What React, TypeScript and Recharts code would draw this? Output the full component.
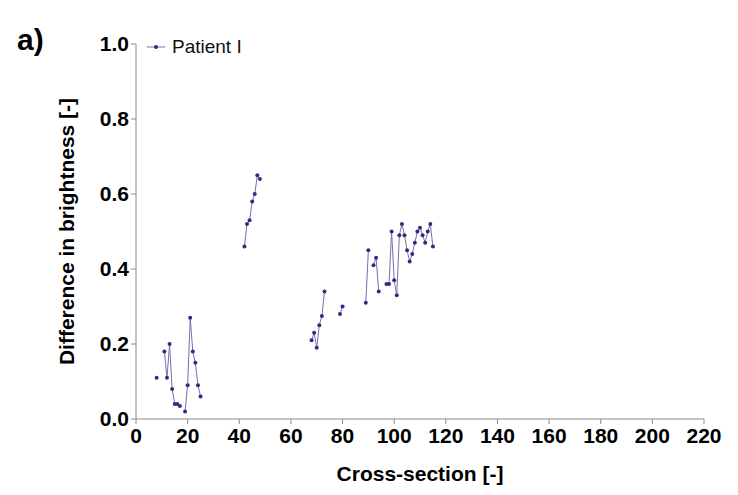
import React from "react";
import { LineChart, Line, XAxis, YAxis } from "recharts";

const crossSection = [
  8, 9, 11, 12, 13, 14, 15, 16, 17, 18, 19, 20, 21, 22, 23, 24, 25, 30,
  42, 43, 44, 45, 46, 47, 48, 55,
  68, 69, 70, 71, 72, 73, 76, 79, 80, 85,
  89, 90, 91, 92, 93, 94, 95, 97, 98, 99, 100, 101, 102, 103, 104, 105, 106, 107, 108, 109, 110, 111, 112, 113, 114, 115,
];
const brightness: (number | null)[] = [
  0.11, null, 0.18, 0.11, 0.2, 0.08, 0.04, 0.04, 0.035, null, 0.02, 0.09, 0.27, 0.18, 0.15, 0.09, 0.06, null,
  0.46, 0.52, 0.53, 0.58, 0.6, 0.65, 0.64, null,
  0.21, 0.23, 0.19, 0.25, 0.275, 0.34, null, 0.28, 0.3, null,
  0.31, 0.45, null, 0.41, 0.43, 0.34, null, 0.36, 0.36, 0.5, 0.37, 0.33, 0.49, 0.52, 0.49, 0.45, 0.42, 0.44, 0.47, 0.5, 0.51, 0.49, 0.47, 0.5, 0.52, 0.46,
];
const xTicks = [0, 20, 40, 60, 80, 100, 120, 140, 160, 180, 200, 220];
const yTicks = [0, 0.2, 0.4, 0.6, 0.8, 1.0];
const seriesName = "Patient I";
const xTitle = "Cross-section [-]";
const yTitle = "Difference in brightness [-]";
const panelLabel = "a)";

const data = crossSection.map((x, i) => ({ x, y: brightness[i] }));

const FONT = "'Liberation Sans', Arial, sans-serif";
const DOT = "#3a2880";
const LINE = "#7a6db2";
const AXIS = "#8a8a8a";

export default function App() {
  return (
    <div style={{ position: "relative", width: 722, height: 479, background: "#fff" }}>
      <div
        style={{
          position: "absolute",
          left: 9,
          top: 15,
          fontFamily: FONT,
          fontWeight: "bold",
          fontSize: 30,
          color: "#000",
          lineHeight: "34px",
        }}
      >
        {panelLabel}
      </div>
      <div
        style={{
          position: "absolute",
          left: 137,
          top: 27,
          display: "flex",
          alignItems: "center",
          fontFamily: FONT,
          fontSize: 19,
          color: "#111",
          lineHeight: "24px",
        }}
      >
        <svg width={22} height={10} style={{ marginRight: 5 }}>
          <line x1={2} y1={5} x2={20} y2={5} stroke={LINE} strokeWidth={1} />
          <circle cx={11} cy={5} r={2} fill={DOT} />
        </svg>
        <span>{seriesName}</span>
      </div>
      <LineChart width={722} height={479} data={data} margin={{ top: 36, right: 26, left: 0, bottom: 0 }}>
        <XAxis
          dataKey="x"
          type="number"
          domain={[0, 220]}
          ticks={xTicks}
          interval={0}
          stroke={AXIS}
          tickSize={5}
          tickMargin={4}
          height={68}
          tick={{ fill: "#000", fontFamily: FONT, fontWeight: "bold", fontSize: 21 }}
          label={{
            content: (p: any) => {
              const vb = p.viewBox || {};
              return (
                <text
                  x={vb.x + vb.width / 2}
                  y={465}
                  textAnchor="middle"
                  dominantBaseline="central"
                  fontFamily={FONT}
                  fontWeight="bold"
                  fontSize={21}
                  fill="#000"
                >
                  {xTitle}
                </text>
              );
            },
          }}
        />
        <YAxis
          type="number"
          domain={[0, 1]}
          ticks={yTicks}
          interval={0}
          width={128}
          stroke={AXIS}
          tickSize={5}
          tickMargin={2}
          tickFormatter={(v: number) => v.toFixed(1)}
          tick={{ fill: "#000", fontFamily: FONT, fontWeight: "bold", fontSize: 21 }}
          label={{
            content: (p: any) => {
              const vb = p.viewBox || {};
              const cy = vb.y + vb.height / 2;
              return (
                <text
                  x={58}
                  y={cy}
                  transform={`rotate(-90, 58, ${cy})`}
                  textAnchor="middle"
                  dominantBaseline="central"
                  fontFamily={FONT}
                  fontWeight="bold"
                  fontSize={21}
                  fill="#000"
                >
                  {yTitle}
                </text>
              );
            },
          }}
        />
        <Line
          type="linear"
          dataKey="y"
          name={seriesName}
          stroke={LINE}
          strokeWidth={1}
          dot={{ r: 2, fill: DOT, stroke: DOT, strokeWidth: 0 }}
          activeDot={false}
          connectNulls={false}
          isAnimationActive={false}
        />
      </LineChart>
    </div>
  );
}
